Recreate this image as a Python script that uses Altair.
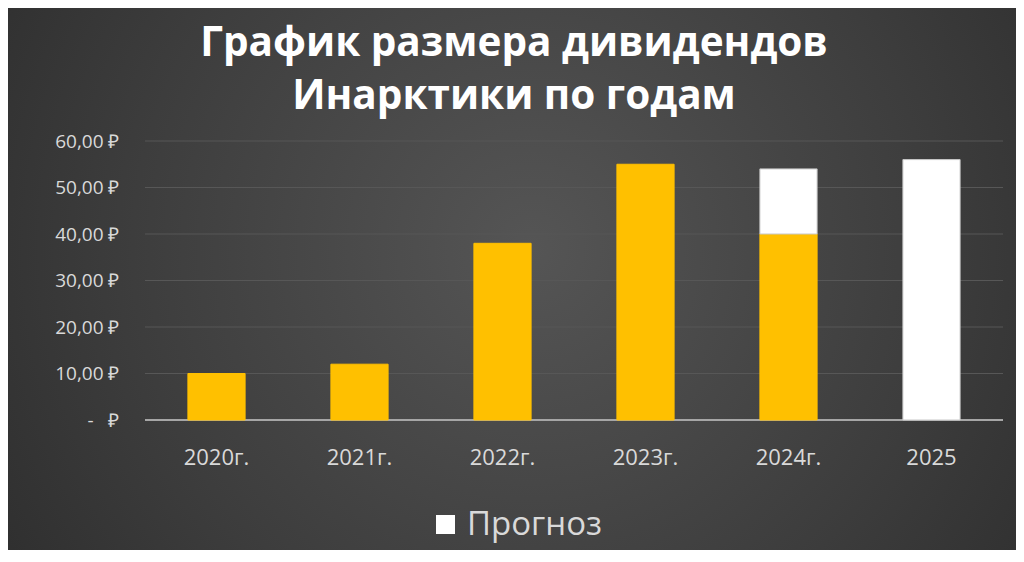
import altair as alt
import pandas as pd

# ---- data ----
years = ["2020г.", "2021г.", "2022г.", "2023г.", "2024г.", "2025"]
paid = [10, 12, 38, 55, 40, 0]          # yellow series
forecast = [0, 0, 0, 0, 14, 56]         # white "Прогноз" series
series = ["Выплачено", "Прогноз"]
colors = ["#FFC000", "#FFFFFF"]
edge_colors = ["#FFC000", "#c8c8c8"]
y_ticks = [0, 10, 20, 30, 40, 50, 60]
title_lines = ["График размера дивидендов", "Инарктики по годам"]

rows = []
for i, yr in enumerate(years):
    rows.append({"year": yr, "series": series[0], "value": paid[i], "order": 0})
    rows.append({"year": yr, "series": series[1], "value": forecast[i], "order": 1})
df = pd.DataFrame(rows)
grid_df = pd.DataFrame({"tick": y_ticks})

W, H = 858, 279
PL, PT, PR, PB = 137, 133, 13, 130
FONT = "Open Sans"
LABEL = "#d9d9d9"

yscale = alt.Scale(domain=[0, 60], nice=False)

label_expr = (
    "datum.value == 0 ? '-\u00a0\u00a0\u00a0₽' : "
    "replace(format(datum.value, '.2f'), '.', ',') + '\u00a0₽'"
)
yaxis = alt.Axis(
    values=y_ticks, labelExpr=label_expr, labelFont=FONT,
    labelFontSize=19, labelColor=LABEL, labelPadding=26, title=None,
    domain=False, ticks=False, grid=False, zindex=1,
)

bg = alt.Chart(pd.DataFrame({"a": [0]})).mark_rect(
    color={
        "gradient": "radial",
        "x1": 0.52, "y1": 0.47, "r1": 0,
        "x2": 0.52, "y2": 0.47, "r2": 0.72,
        "stops": [
            {"offset": 0, "color": "#555555"},
            {"offset": 0.55, "color": "#3d3d3d"},
            {"offset": 1, "color": "#282828"},
        ],
    }
).encode(
    x=alt.value(-PL), x2=alt.value(W + PR),
    y=alt.value(-PT), y2=alt.value(H + PB),
)

grid = alt.Chart(grid_df).transform_filter("datum.tick > 0").mark_rule(
    color="#575757", strokeWidth=1
).encode(y=alt.Y("tick:Q", scale=yscale, axis=yaxis))

base_line = alt.Chart(grid_df).transform_filter("datum.tick == 0").mark_rule(
    color="#a6a6a6", strokeWidth=2
).encode(y=alt.Y("tick:Q", scale=yscale, axis=yaxis))

bars = alt.Chart(df).transform_filter("datum.value > 0").mark_bar(strokeWidth=1).encode(
    x=alt.X(
        "year:N", sort=years, title=None,
        scale=alt.Scale(domain=years, paddingInner=0.6, paddingOuter=0.3),
        axis=alt.Axis(
            labelAngle=0, labelFont=FONT, labelFontSize=22, labelColor=LABEL,
            labelPadding=27, domain=False, ticks=False, grid=False, zindex=1,
        ),
    ),
    y=alt.Y("value:Q", stack="zero", title=None, scale=yscale, axis=yaxis),
    color=alt.Color(
        "series:N", title=None,
        scale=alt.Scale(domain=series, range=colors),
        legend=alt.Legend(
            values=["Прогноз"], orient="none", legendX=284, legendY=367,
            symbolType="square", symbolSize=361, symbolStrokeWidth=0,
            labelFont=FONT, labelFontSize=33, labelColor=LABEL,
            labelOffset=5, padding=0, zindex=1,
        ),
    ),
    stroke=alt.Stroke(
        "series:N", scale=alt.Scale(domain=series, range=edge_colors), legend=None
    ),
    order=alt.Order("order:Q"),
)

chart = alt.layer(bg, grid, base_line, bars).properties(
    width=W, height=H,
    autosize=alt.AutoSizeParams(type="none"),
    padding={"left": PL, "top": PT, "right": PR, "bottom": PB},
    title=alt.TitleParams(
        text=title_lines, font=FONT, fontSize=40.5, fontWeight="bold",
        color="#ffffff", anchor="middle", dx=-60, offset=-141,
        baseline="alphabetic", lineHeight=53, zindex=1,
    ),
).configure(background="#333333").configure_view(stroke=None)

chart.save("out.html", embed_options={"renderer": "svg", "actions": False})
